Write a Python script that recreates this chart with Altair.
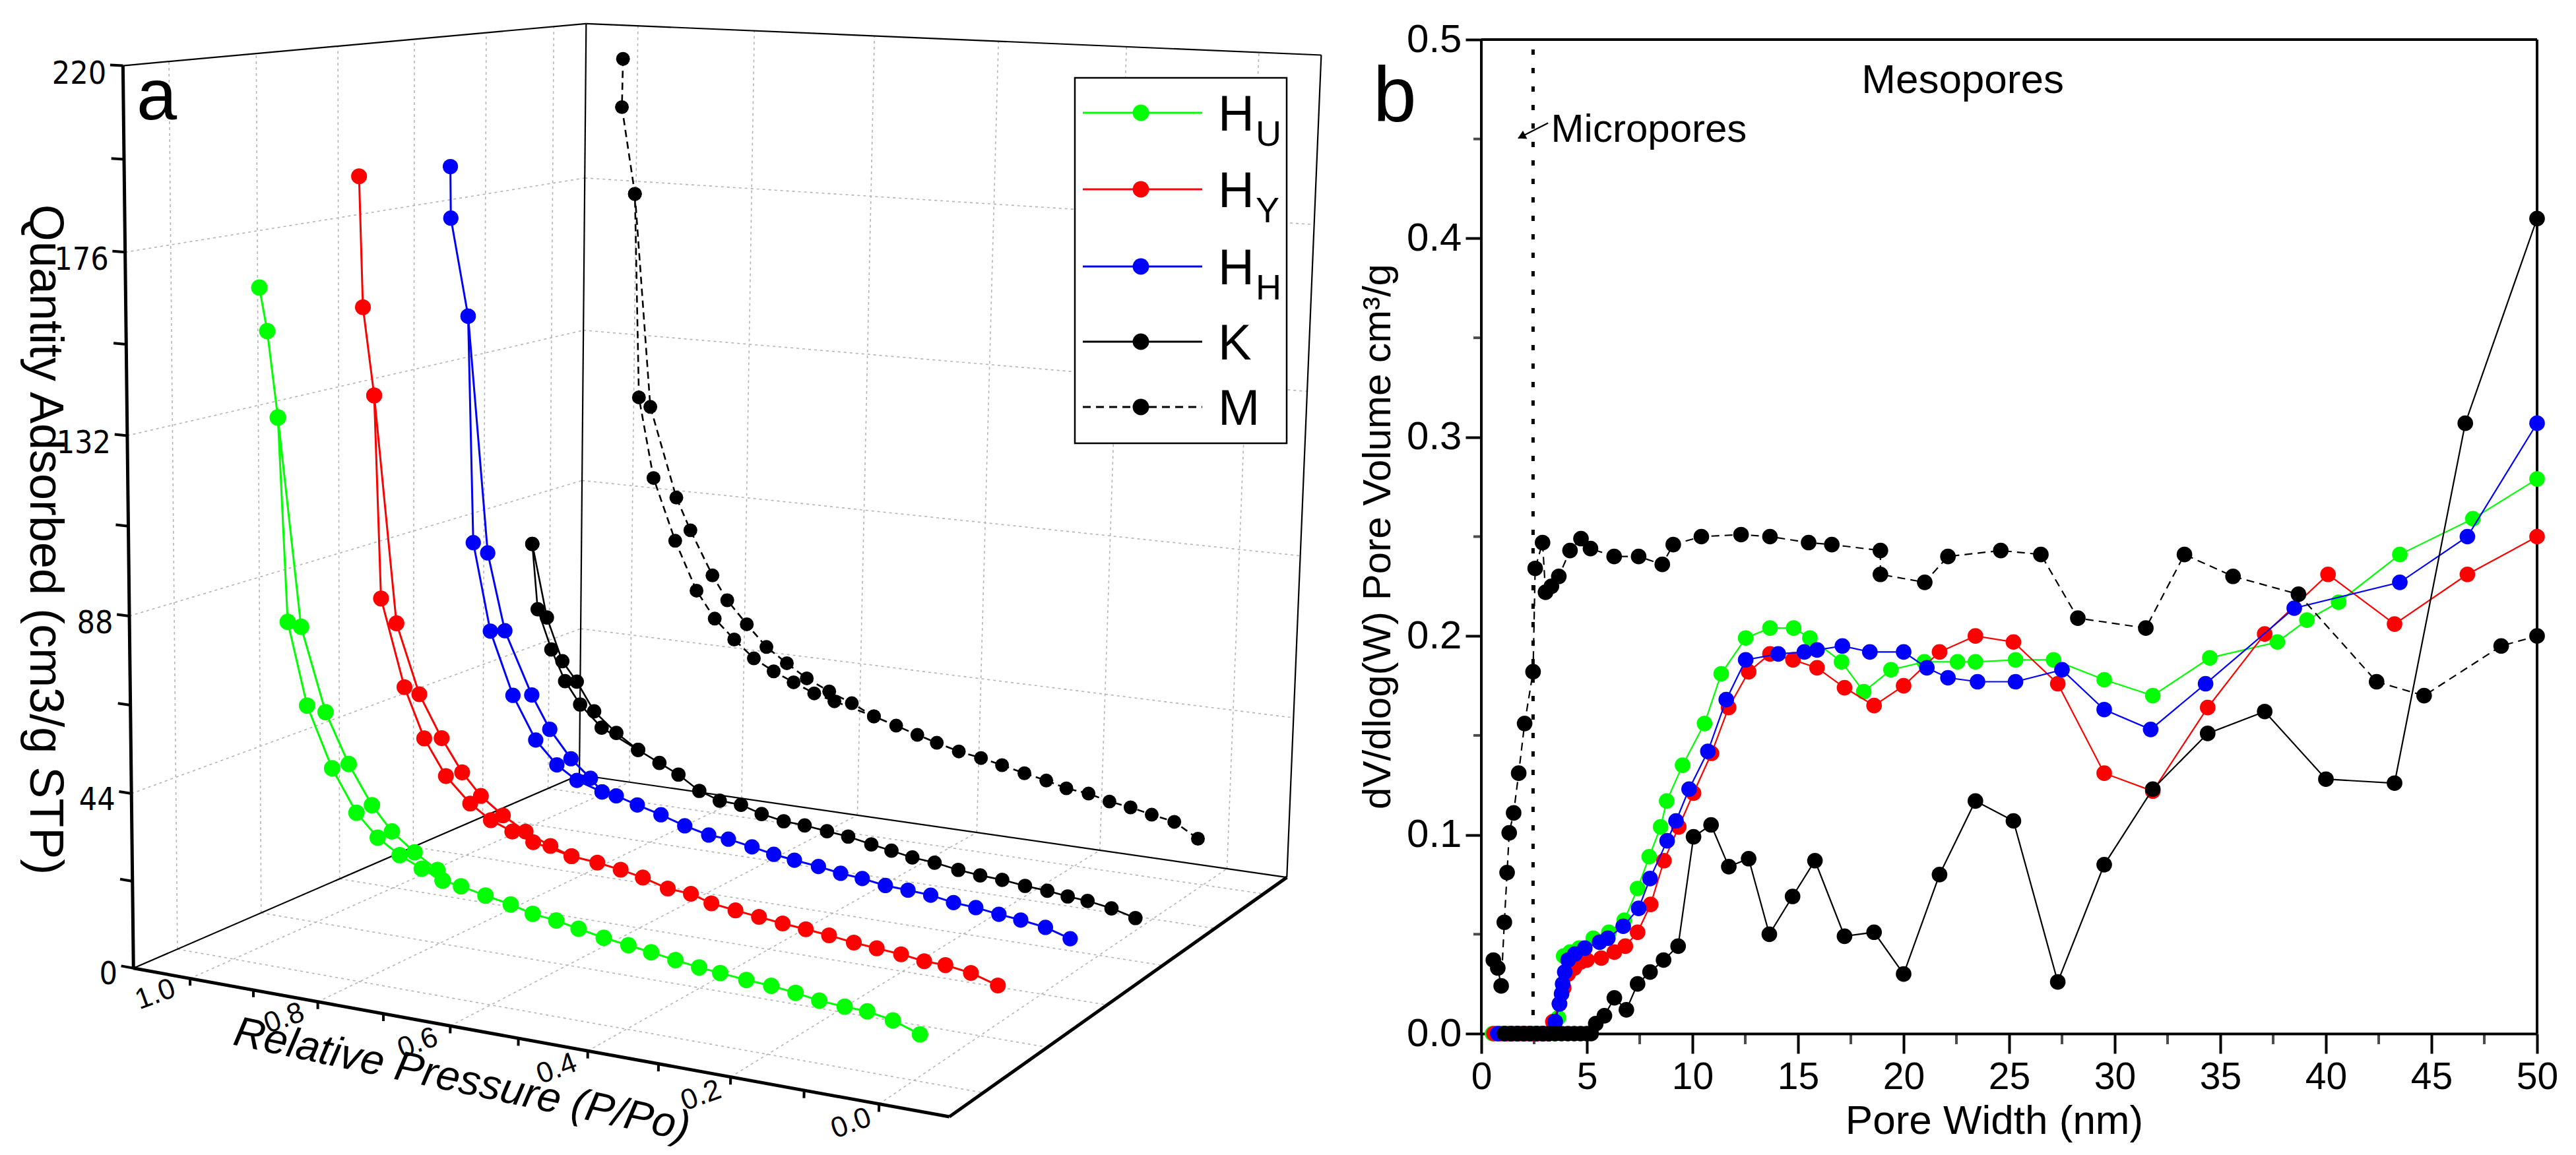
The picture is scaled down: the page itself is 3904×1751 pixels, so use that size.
import numpy as np
import pandas as pd
import altair as alt

FONT = "Liberation Sans"
NARROW = "'Liberation Sans Narrow', 'DejaVu Sans Condensed', 'Arial Narrow', 'Liberation Sans'"

# ---------------- panel a : N2 isotherms (P/P0, quantity adsorbed cm3/g STP) ----------------
HU_ads_P = [0.979, 0.967, 0.951, 0.937, 0.907, 0.868, 0.830, 0.797, 0.763, 0.729,
            0.697, 0.669, 0.632, 0.594, 0.561, 0.526, 0.493, 0.456, 0.420, 0.387,
            0.352, 0.318, 0.288, 0.251, 0.216, 0.182, 0.149, 0.114, 0.083, 0.048, 0.011]
HU_ads_Q = [166.3, 155.9, 135.1, 85.0, 64.8, 50.0, 39.8, 34.4, 30.9, 28.4,
            26.3, 25.6, 24.3, 23.1, 21.7, 21.0, 19.9, 18.7, 17.9, 17.1,
            16.2, 15.4, 14.9, 14.3, 13.9, 13.2, 12.3, 11.9, 11.7, 10.6, 8.4]
HU_des_P = [0.951, 0.916, 0.878, 0.842, 0.806, 0.775, 0.740, 0.705, 0.697]
HU_des_Q = [135.1, 84.2, 63.8, 51.7, 42.3, 36.5, 32.2, 28.7, 26.3]

HY_ads_P = [0.979, 0.973, 0.955, 0.944, 0.906, 0.874, 0.839, 0.800, 0.767, 0.733, 0.700,
            0.640, 0.600, 0.564, 0.530, 0.492, 0.457, 0.426, 0.390, 0.355, 0.320, 0.286,
            0.252, 0.216, 0.183, 0.148, 0.115, 0.085, 0.049, 0.011]
HY_ads_Q = [189.6, 156.8, 134.7, 82.8, 60.6, 48.0, 39.0, 32.8, 29.3, 27.2, 25.3,
            23.2, 22.6, 21.7, 20.6, 18.8, 18.4, 16.8, 16.0, 15.3, 14.6, 14.1,
            13.5, 12.7, 12.2, 11.7, 10.9, 10.8, 9.9, 7.9]
HY_des_P = [0.955, 0.919, 0.882, 0.846, 0.813, 0.783, 0.748, 0.712, 0.673, 0.640]
HY_des_Q = [134.7, 76.9, 59.3, 48.7, 40.6, 35.2, 31.0, 27.7, 25.0, 23.2]

HH_ads_P = [0.981, 0.980, 0.951, 0.941, 0.912, 0.874, 0.836, 0.801, 0.768,
            0.727, 0.704, 0.670, 0.632, 0.594, 0.556, 0.525, 0.488, 0.454, 0.422, 0.385,
            0.351, 0.318, 0.283, 0.249, 0.215, 0.181, 0.148, 0.114, 0.082, 0.046, 0.010]
HH_ads_Q = [188.6, 175.2, 149.9, 90.0, 66.8, 50.3, 39.1, 33.2, 29.8,
            27.7, 27.2, 25.6, 23.9, 21.9, 20.4, 20.1, 19.0, 17.9, 17.2, 16.5,
            15.6, 15.1, 14.2, 13.9, 13.5, 12.5, 12.1, 11.3, 10.7, 9.8, 7.9]
HH_des_P = [0.951, 0.917, 0.888, 0.843, 0.813, 0.778, 0.746, 0.727]
HH_des_Q = [149.9, 87.7, 67.4, 51.1, 42.5, 35.4, 30.9, 27.7]

K_ads_P = [0.983, 0.973, 0.949, 0.925, 0.899, 0.862,
           0.800, 0.764, 0.732, 0.697, 0.663, 0.628, 0.594, 0.558, 0.524, 0.488, 0.454,
           0.417, 0.385, 0.352, 0.317, 0.280, 0.246, 0.212, 0.177, 0.143, 0.112, 0.082, 0.046, 0.010]
K_ads_Q = [81.6, 63.5, 52.7, 44.3, 38.3, 32.6,
           27.8, 25.0, 22.5, 18.8, 16.9, 16.6, 14.9, 13.8, 13.5, 12.8, 12.2,
           11.0, 10.1, 9.1, 8.6, 7.6, 7.0, 6.7, 6.0, 5.6, 4.9, 4.5, 3.5, 1.9]
K_des_P = [0.983, 0.957, 0.930, 0.905, 0.875, 0.837, 0.800]
K_des_Q = [81.6, 61.5, 49.8, 44.6, 36.9, 31.7, 27.8]

M_ads_P = [0.970, 0.971, 0.947, 0.936, 0.909, 0.870, 0.832, 0.800, 0.766, 0.732, 0.698, 0.664, 0.629, 0.595,
           0.529, 0.492, 0.457, 0.425, 0.389, 0.353, 0.319, 0.283, 0.248, 0.216, 0.181, 0.148, 0.115, 0.082, 0.047, 0.010]
M_ads_Q = [211.9, 198.5, 174.5, 117.2, 94.6, 77.3, 63.7, 56.3, 51.0, 46.3, 43.3, 40.9, 38.5, 37.0,
           34.2, 32.4, 30.6, 29.1, 27.5, 26.5, 25.3, 23.9, 22.7, 21.3, 20.7, 19.3, 18.5, 17.3, 16.2, 12.5]
M_des_P = [0.947, 0.916, 0.869, 0.844, 0.805, 0.779, 0.745, 0.711, 0.676, 0.642, 0.604, 0.566, 0.529]
M_des_Q = [174.5, 114.8, 89.7, 80.8, 68.6, 62.0, 55.8, 50.0, 46.1, 42.5, 39.6, 37.1, 34.2]

# ---------------- panel b : pore size distribution (nm, dV/dlog(W) cm3/g) ----------------
HU_W = [0.53, 0.8, 1.1, 1.4, 1.7, 2.0, 2.3, 2.6, 2.9, 3.2, 3.45, 3.65, 3.9, 4.2, 4.63, 5.3, 6.04, 6.77,
        7.4, 7.95, 8.49, 8.78, 9.53, 10.57, 11.36, 12.52, 13.67, 14.79, 15.56, 17.06, 18.11, 19.4,
        20.98, 22.55, 23.4, 25.3, 27.1, 29.5, 31.8, 34.5, 37.7, 39.1, 40.6, 43.5, 46.96, 50.0]
HU_V = [0, 0, 0, 0, 0, 0, 0, 0, 0, 0, 0, 0.008, 0.039, 0.041, 0.043, 0.048, 0.051, 0.057,
        0.073, 0.089, 0.104, 0.117, 0.135, 0.156, 0.181, 0.199, 0.204, 0.204, 0.199, 0.187, 0.172, 0.183,
        0.187, 0.187, 0.187, 0.188, 0.188, 0.178, 0.170, 0.189, 0.197, 0.208, 0.217, 0.241, 0.259, 0.279]
HY_W = [0.6, 0.9, 1.2, 1.5, 1.8, 2.1, 2.4, 2.7, 3.0, 3.2, 3.39, 3.7, 3.9, 4.11, 4.4, 4.7, 5.0, 5.68,
        6.3, 6.82, 7.4, 8.02, 8.65, 9.35, 10.05, 10.9, 11.71, 12.66, 13.67, 14.76, 15.9, 17.2, 18.6,
        20.0, 21.7, 23.4, 25.2, 27.3, 29.5, 31.8, 34.4, 37.1, 40.1, 43.25, 46.7, 50.0]
HY_V = [0, 0, 0, 0, 0, 0, 0, 0, 0, 0, 0.006, 0.015, 0.023, 0.030, 0.033, 0.036, 0.037, 0.038,
        0.041, 0.044, 0.051, 0.065, 0.087, 0.104, 0.121, 0.141, 0.164, 0.182, 0.191, 0.188, 0.184, 0.174, 0.165,
        0.175, 0.192, 0.200, 0.197, 0.176, 0.131, 0.122, 0.164, 0.201, 0.231, 0.206, 0.231, 0.250]
HH_W = [0.78, 1.1, 1.4, 1.7, 2.0, 2.3, 2.6, 2.9, 3.2, 3.5, 3.7, 3.8, 3.85, 3.95, 4.11, 4.43, 4.9, 5.6,
        5.99, 6.72, 7.45, 7.99, 8.8, 9.22, 9.84, 10.73, 11.6, 12.52, 14.06, 15.3, 15.9, 17.1, 18.4,
        20.0, 21.1, 22.1, 23.5, 25.3, 27.5, 29.5, 31.7, 34.3, 38.5, 43.5, 46.7, 50.0]
HH_V = [0, 0, 0, 0, 0, 0, 0, 0, 0, 0.006, 0.015, 0.020, 0.025, 0.031, 0.037, 0.040, 0.043, 0.046,
        0.048, 0.054, 0.063, 0.078, 0.097, 0.107, 0.123, 0.142, 0.168, 0.188, 0.191, 0.192, 0.193, 0.195, 0.192,
        0.192, 0.184, 0.179, 0.177, 0.177, 0.183, 0.163, 0.153, 0.176, 0.214, 0.227, 0.250, 0.307]
K_W = [1.1, 1.4, 1.7, 2.0, 2.3, 2.6, 2.9, 3.2, 3.5, 3.8, 4.1, 4.4, 4.7, 5.0, 5.2,
       5.42, 5.83, 6.3, 6.87, 7.4, 7.99, 8.63, 9.32, 10.05, 10.88, 11.72, 12.66, 13.64, 14.74, 15.8,
       17.2, 18.6, 20.0, 21.7, 23.4, 25.2, 27.3, 29.5, 31.8, 34.4, 37.1, 40.0, 43.25, 46.6, 50.0]
K_V = [0, 0, 0, 0, 0, 0, 0, 0, 0, 0, 0, 0, 0, 0, 0,
       0.005, 0.009, 0.018, 0.012, 0.025, 0.031, 0.037, 0.044, 0.099, 0.105, 0.084, 0.088, 0.050, 0.069, 0.087,
       0.049, 0.051, 0.030, 0.080, 0.117, 0.107, 0.026, 0.085, 0.123, 0.151, 0.162, 0.128, 0.126, 0.307, 0.410]
M_W = [0.57, 0.78, 0.94, 1.09, 1.22, 1.32, 1.53, 1.77, 2.05, 2.45, 2.55, 2.9, 3.04, 3.32, 3.67, 4.2,
       4.72, 5.17, 6.29, 7.45, 8.57, 9.09, 10.42, 12.3, 13.67, 15.5, 16.6, 18.9, 18.9, 21.0, 22.1,
       24.6, 26.5, 28.25, 31.47, 33.3, 35.6, 38.7, 42.4, 44.65, 48.3, 50.0]
M_V = [0.037, 0.033, 0.024, 0.056, 0.081, 0.101, 0.111, 0.131, 0.156, 0.182, 0.234, 0.247, 0.222, 0.225,
       0.230, 0.243, 0.249, 0.244, 0.240, 0.240, 0.236, 0.246, 0.250, 0.251, 0.250, 0.247, 0.246, 0.243,
       0.231, 0.227, 0.240, 0.243, 0.241, 0.209, 0.204, 0.241, 0.230, 0.221, 0.177, 0.170, 0.195, 0.200]

SERIES = ["HU", "HY", "HH", "K", "M"]
COLORS = {"HU": "#00FF00", "HY": "#FF0000", "HH": "#0000FF", "K": "#000000", "M": "#000000"}
MAIN_LABEL = ["H", "H", "H", "K", "M"]
SUB_LABEL = ["U", "Y", "H", "", ""]

ISO = {
    "HU": (HU_ads_P, HU_ads_Q, HU_des_P, HU_des_Q),
    "HY": (HY_ads_P, HY_ads_Q, HY_des_P, HY_des_Q),
    "HH": (HH_ads_P, HH_ads_Q, HH_des_P, HH_des_Q),
    "K": (K_ads_P, K_ads_Q, K_des_P, K_des_Q),
    "M": (M_ads_P, M_ads_Q, M_des_P, M_des_Q),
}
PSD = {"HU": (HU_W, HU_V), "HY": (HY_W, HY_V), "HH": (HH_W, HH_V), "K": (K_W, K_V), "M": (M_W, M_V)}

# ---------------- perspective camera for the 3-D box of panel a ----------------
P_LEFT, P_RIGHT, Q_MAX = 1.091, -0.092, 220.0
CAL = [
    ((P_LEFT, 0, 0), (203, 1467)), ((P_RIGHT, 0, 0), (1439, 1694)),
    ((P_RIGHT, 1, 0), (1951, 1326)), ((P_LEFT, 1, 0), (880, 1177)),
    ((P_LEFT, 0, 1), (186, 99)), ((P_LEFT, 1, 1), (885, 36)), ((P_RIGHT, 1, 1), (2004, 86)),
    ((1.0, 0, 0), (288, 1483)), ((0.5, 0, 0), (782, 1574)), ((0.0, 0, 0), (1331, 1675)),
    ((P_LEFT, 0, 0.2), (200, 1204)), ((P_LEFT, 0, 0.4), (196, 935)),
    ((P_LEFT, 0, 0.6), (193, 659)), ((P_LEFT, 0, 0.8), (189, 383)),
    ((P_LEFT, 1 / 12, 1), (260, 92)), ((P_LEFT, 3 / 12, 1), (389, 81)),
    ((P_LEFT, 5 / 12, 1), (512, 70)), ((P_LEFT, 7 / 12, 1), (628, 59)),
    ((P_LEFT, 9 / 12, 1), (737, 49)), ((P_LEFT, 11 / 12, 1), (838, 40)),
]


def fit_camera(cal):
    rows = []
    for (X, Y, Z), (u, v) in cal:
        u = (u - 1000.0) / 1000.0
        v = (v - 900.0) / 1000.0
        rows.append([X, Y, Z, 1, 0, 0, 0, 0, -u * X, -u * Y, -u * Z, -u])
        rows.append([0, 0, 0, 0, X, Y, Z, 1, -v * X, -v * Y, -v * Z, -v])
    _, _, vt = np.linalg.svd(np.array(rows, dtype=float))
    return vt[-1].reshape(3, 4)


CAM = fit_camera(CAL)


def proj(P, d, q):
    P, d, q = np.broadcast_arrays(np.asarray(P, float), np.asarray(d, float), np.asarray(q, float))
    X = np.vstack([P.ravel(), d.ravel(), q.ravel() / Q_MAX, np.ones(P.size)])
    w = CAM @ X
    return w[0] / w[2] * 1000.0 + 1000.0, w[1] / w[2] * 1000.0 + 900.0


def series_depth(k):
    return (k - 0.42) / 5.0


DEPTH_GRID = [(k - 0.5) / 6.0 for k in range(1, 7)]
P_MAJOR = [1.0, 0.8, 0.6, 0.4, 0.2, 0.0]
P_ALL = [round(0.1 * i, 1) for i in range(11)]
Q_GRID = [44, 88, 132, 176]
Q_LABELS = [0, 44, 88, 132, 176, 220]
Q_TICKS = [22 * i for i in range(11)]


def seg_df(pairs):
    rows = []
    for a, b in pairs:
        x1, y1 = proj(*a)
        x2, y2 = proj(*b)
        rows.append(dict(x=float(x1[0]), y=float(y1[0]), x2=float(x2[0]), y2=float(y2[0])))
    return pd.DataFrame(rows)


xs_a = alt.Scale(domain=[8, 2145], nice=False, zero=False)
ys_a = alt.Scale(domain=[8, 1751], nice=False, zero=False, reverse=True)
XA = alt.X("x:Q", scale=xs_a, axis=None)
YA = alt.Y("y:Q", scale=ys_a, axis=None)


def rule_layer(df, width, color="black", dash=None):
    kw = dict(strokeWidth=width, color=color)
    if dash is not None:
        kw["strokeDash"] = dash
    return alt.Chart(df).mark_rule(**kw).encode(x=XA, y=YA, x2="x2:Q", y2="y2:Q")


def text_layer(df, font=FONT, **kw):
    return alt.Chart(df).mark_text(font=font, color="black", **kw).encode(x=XA, y=YA, text="label:N")


layers_a = []

# grid: back wall, left wall, floor
grid_pairs = []
for p in P_MAJOR:
    grid_pairs.append(((p, 1, 0), (p, 1, Q_MAX)))
    grid_pairs.append(((p, 0, 0), (p, 1, 0)))
for q in Q_GRID:
    grid_pairs.append(((P_LEFT, 1, q), (P_RIGHT, 1, q)))
    grid_pairs.append(((P_LEFT, 0, q), (P_LEFT, 1, q)))
for dg in DEPTH_GRID:
    grid_pairs.append(((P_LEFT, dg, 0), (P_LEFT, dg, Q_MAX)))
    grid_pairs.append(((P_LEFT, dg, 0), (P_RIGHT, dg, 0)))
layers_a.append(rule_layer(seg_df(grid_pairs), 1.6, "#b4b4b4", [4, 5]))

# thin box edges
thin = [((P_LEFT, 0, 0), (P_LEFT, 1, 0)), ((P_LEFT, 1, 0), (P_RIGHT, 1, 0)),
        ((P_LEFT, 1, 0), (P_LEFT, 1, Q_MAX)), ((P_LEFT, 0, Q_MAX), (P_LEFT, 1, Q_MAX)),
        ((P_LEFT, 1, Q_MAX), (P_RIGHT, 1, Q_MAX)), ((P_RIGHT, 1, 0), (P_RIGHT, 1, Q_MAX))]
layers_a.append(rule_layer(seg_df(thin), 2.2))
# thick axes
thick = [((P_LEFT, 0, 0), (P_RIGHT, 0, 0)), ((P_RIGHT, 0, 0), (P_RIGHT, 1, 0)),
         ((P_LEFT, 0, 0), (P_LEFT, 0, Q_MAX))]
layers_a.append(rule_layer(seg_df(thick), 5))
# ticks
tick_pairs = [((p, 0, 0), (p, 0, -1.8)) for p in P_ALL]
tick_pairs += [((P_LEFT, 0, q), (P_LEFT + 0.02, 0, q)) for q in Q_TICKS]
layers_a.append(rule_layer(seg_df(tick_pairs), 4))

# tick labels
lx, ly = proj(P_MAJOR, -0.065, 0)
df_pl = pd.DataFrame(dict(x=lx, y=ly, label=["%.1f" % p for p in P_MAJOR]))
layers_a.append(text_layer(df_pl, fontSize=44, angle=340, align="center", baseline="middle", dy=1))
qx, qy = proj(P_LEFT + 0.026, 0, Q_LABELS)
df_ql = pd.DataFrame(dict(x=qx, y=qy, label=[str(q) for q in Q_LABELS]))
layers_a.append(text_layer(df_ql, font=NARROW, fontSize=48, align="right", baseline="middle", dy=15))

# isotherm curves, back to front
DOT = {"HU": 620, "HY": 580, "HH": 540, "K": 470, "M": 440}
for k in [5, 4, 3, 2, 1]:
    name = SERIES[k - 1]
    aP, aQ, dP, dQ = ISO[name]
    dep = series_depth(k)
    rows = []
    for br, PP, QQ in (("ads", aP, aQ), ("des", dP, dQ)):
        x, y = proj(PP, dep, QQ)
        for i in range(len(PP)):
            rows.append(dict(x=float(x[i]), y=float(y[i]), branch=br, idx=i, P=PP[i], Q=QQ[i]))
    df_s = pd.DataFrame(rows)
    lkw = dict(color=COLORS[name], strokeWidth=3 if k <= 3 else 2.6)
    if name == "M":
        lkw["strokeDash"] = [11, 7]
    layers_a.append(alt.Chart(df_s).mark_line(**lkw).encode(
        x=XA, y=YA, detail="branch:N", order="idx:Q"))
    layers_a.append(alt.Chart(df_s).mark_circle(color=COLORS[name], opacity=1, size=DOT[name]).encode(x=XA, y=YA))

# legend (manual, with subscripts)
LEG_X0, LEG_X1, LEG_Y0, LEG_Y1 = 1629, 1950, 118, 672
LEG_ROW_Y = [171, 287, 404, 518, 617]
layers_a.append(alt.Chart(pd.DataFrame(dict(x=[LEG_X0], y=[LEG_Y0], x2=[LEG_X1], y2=[LEG_Y1]))).mark_rect(
    fill="white", stroke="black", strokeWidth=2.5).encode(x=XA, y=YA, x2="x2:Q", y2="y2:Q"))
for i, name in enumerate(SERIES):
    yy = LEG_ROW_Y[i]
    kw = dict(strokeWidth=3)
    if name == "M":
        kw["strokeDash"] = [12, 8]
    layers_a.append(alt.Chart(pd.DataFrame(dict(x=[1641], y=[yy], x2=[1822], y2=[yy]))).mark_rule(
        color=COLORS[name], **kw).encode(x=XA, y=YA, x2="x2:Q", y2="y2:Q"))
    layers_a.append(alt.Chart(pd.DataFrame(dict(x=[1729], y=[yy]))).mark_circle(
        color=COLORS[name], opacity=1, size=620).encode(x=XA, y=YA))
df_lm = pd.DataFrame(dict(x=[1846] * 5, y=[v + 27 for v in LEG_ROW_Y], label=MAIN_LABEL))
layers_a.append(text_layer(df_lm, fontSize=76, align="left", baseline="alphabetic"))
df_ls = pd.DataFrame(dict(x=[1903] * 5, y=[v + 50 for v in LEG_ROW_Y], label=SUB_LABEL))
layers_a.append(text_layer(df_ls, fontSize=54, align="left", baseline="alphabetic"))

# titles and panel letters
layers_a.append(text_layer(pd.DataFrame(dict(x=[46], y=[818], label=["Quantity Adsorbed (cm3/g STP)"])),
                           fontSize=72, angle=90, align="center", baseline="alphabetic"))
layers_a.append(text_layer(pd.DataFrame(dict(x=[700], y=[1638], label=["Relative Pressure (P/Po)"])),
                           fontSize=64, angle=12, align="center", baseline="middle", fontStyle="italic"))
layers_a.append(text_layer(pd.DataFrame(dict(x=[207], y=[181], label=["a"])),
                           fontSize=110, align="left", baseline="alphabetic"))
layers_a.append(text_layer(pd.DataFrame(dict(x=[2081], y=[184], label=["b"])),
                           fontSize=118, align="left", baseline="alphabetic"))

panel_a = alt.layer(*layers_a).properties(width=2137, height=1743)

# ---------------- panel b ----------------
HB = 1559
YTOP = 0.5 * HB / 1507.0
x_axis = alt.Axis(values=list(range(0, 51, 5)), format="d", tickSize=30, tickWidth=4, tickColor="black",
                  domainWidth=4, domainColor="black", labelFont=FONT, labelFontSize=57, labelColor="black",
                  labelPadding=8, labelFlush=False, labelOverlap=False, grid=False,
                  titleFont=FONT, titleFontSize=62, titleFontWeight="normal", titleColor="black",
                  titleX=777, titleY=151, titleBaseline="alphabetic", titleAlign="center")
y_axis = alt.Axis(values=[0, 0.1, 0.2, 0.3, 0.4, 0.5], format=".1f", tickSize=24, tickWidth=4,
                  tickColor="black", domain=False, labelFont=FONT, labelFontSize=60, labelColor="black",
                  labelPadding=6, labelFlush=False, labelOverlap=False, grid=False,
                  titleFont=FONT, titleFontSize=60, titleFontWeight="normal", titleColor="black",
                  titleX=-157, titleY=805, titleAngle=270, titleBaseline="middle", titleAlign="center")
XB = alt.X("nm:Q", scale=alt.Scale(domain=[0, 50], nice=False, zero=False), axis=x_axis,
           title="Pore Width (nm)")
YB = alt.Y("val:Q", scale=alt.Scale(domain=[0, YTOP], nice=False, zero=False), axis=y_axis,
           title="dV/dlog(W) Pore Volume cm³/g")

layers_b = []
frame = pd.DataFrame(dict(nm=[0, 0, 50], val=[0, 0.5, 0], nm2=[0, 50, 50], val2=[0.5, 0.5, 0.5]))
layers_b.append(alt.Chart(frame).mark_rule(color="black", strokeWidth=4).encode(
    x=XB, y=YB, x2="nm2:Q", y2="val2:Q"))
sep = pd.DataFrame(dict(nm=[2.45], val=[0], nm2=[2.45], val2=[0.5]))
layers_b.append(alt.Chart(sep).mark_rule(color="black", strokeWidth=5, strokeDash=[8, 20]).encode(
    x=XB, y=YB, x2="nm2:Q", y2="val2:Q"))
minor_x = pd.DataFrame(dict(nm=[2.5 + 5 * i for i in range(10)], val=[0] * 10))
layers_b.append(alt.Chart(minor_x).mark_tick(orient="vertical", size=16, thickness=4, color="black",
                                              yOffset=8).encode(x=XB, y=YB))
minor_y = pd.DataFrame(dict(nm=[0] * 5, val=[0.05, 0.15, 0.25, 0.35, 0.45]))
layers_b.append(alt.Chart(minor_y).mark_tick(orient="horizontal", size=12, thickness=4, color="black",
                                              xOffset=-6).encode(x=XB, y=YB))

for name in SERIES:
    W, V = PSD[name]
    df_p = pd.DataFrame(dict(nm=W, val=V, idx=list(range(len(W)))))
    kw = dict(color=COLORS[name], strokeWidth=2.2)
    if name == "M":
        kw["strokeDash"] = [12, 8]
    layers_b.append(alt.Chart(df_p).mark_line(**kw).encode(x=XB, y=YB, order="idx:Q"))
    layers_b.append(alt.Chart(df_p).mark_circle(color=COLORS[name], opacity=1, size=560).encode(x=XB, y=YB))

arrow = pd.DataFrame(dict(nm=[3.16], val=[0.458], nm2=[1.75], val2=[0.4504]))
layers_b.append(alt.Chart(arrow).mark_rule(color="black", strokeWidth=2.2).encode(
    x=XB, y=YB, x2="nm2:Q", y2="val2:Q"))
layers_b.append(alt.Chart(pd.DataFrame(dict(nm=[1.9], val=[0.4512]))).mark_point(
    shape="triangle-up", angle=243, filled=True, color="black", opacity=1, size=200).encode(x=XB, y=YB))
ann = pd.DataFrame(dict(nm=[3.3, 22.8], val=[0.4486, 0.473], label=["Micropores", "Mesopores"]))
layers_b.append(alt.Chart(ann.iloc[[0]]).mark_text(font=FONT, fontSize=60, align="left",
                                                   baseline="alphabetic", color="black").encode(
    x=XB, y=YB, text="label:N"))
layers_b.append(alt.Chart(ann.iloc[[1]]).mark_text(font=FONT, fontSize=62, align="center",
                                                   baseline="alphabetic", color="black").encode(
    x=XB, y=YB, text="label:N"))

panel_b = alt.layer(*layers_b).properties(width=1600, height=HB)

chart = alt.hconcat(panel_a, panel_b, spacing=100, bounds="flush").properties(
    padding=0).configure_view(strokeWidth=0)

chart.save("out.html", embed_options={"renderer": "svg", "actions": False})
